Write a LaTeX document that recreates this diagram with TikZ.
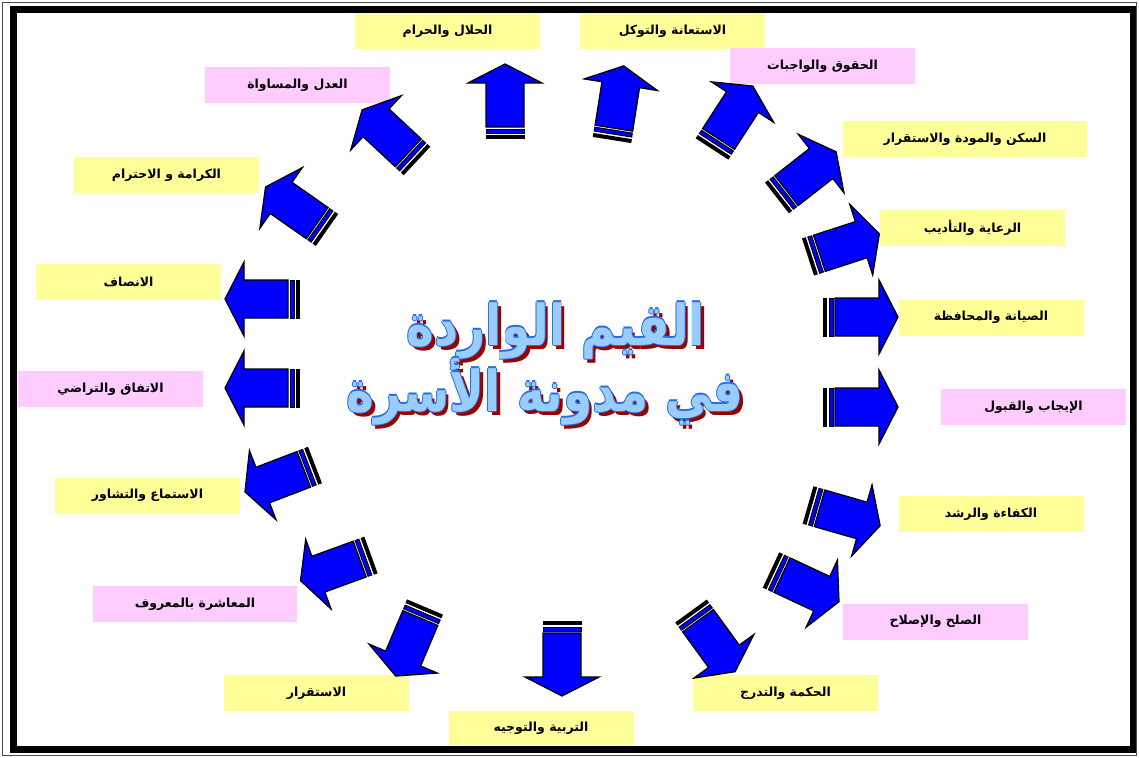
\documentclass[tikz,border=0pt]{standalone}
\usepackage{fontspec}
\newfontfamily\arabicfont[Script=Arabic]{DejaVu Sans}
\TeXXeTstate=1
\definecolor{arrowblue}{RGB}{0,0,255}
\definecolor{boxyellow}{RGB}{255,255,153}
\definecolor{boxpink}{RGB}{255,204,255}
\definecolor{titleblue}{RGB}{153,204,255}
\definecolor{titleline}{RGB}{40,110,220}
\definecolor{titleshadow}{RGB}{153,0,0}

% shadow, thin rim and light fill stacked in one box
\newcommand\titlelayers[1]{%
  \leavevmode
  \rlap{\hspace{3.5pt}\raisebox{-3.5pt}{\color{titleshadow}\beginR#1\endR}}%
  \rlap{\hspace{0.9pt}\color{titleline}\beginR#1\endR}%
  \rlap{\hspace{-0.9pt}\color{titleline}\beginR#1\endR}%
  \rlap{\raisebox{0.9pt}{\color{titleline}\beginR#1\endR}}%
  \rlap{\raisebox{-0.9pt}{\color{titleline}\beginR#1\endR}}%
  {\color{titleblue}\beginR#1\endR}}

\tikzset{
  valuebox/.style={minimum width=185pt, minimum height=36pt, inner sep=0pt,
    font=\arabicfont\bfseries\fontsize{12.5}{14}\selectfont},
  yellowbox/.style={valuebox, fill=boxyellow},
  pinkbox/.style={valuebox, fill=boxpink},
  titletext/.style={anchor=base, yscale=1.2, transform shape,
    font=\arabicfont\bfseries\fontsize{47}{52}\selectfont},
  valuearrow/.pic={
    \fill[black] (0,-19.5) rectangle (4,19.5);
    \filldraw[fill=arrowblue, draw=black, line width=1pt] (6,-19) rectangle (10,19);
    \filldraw[fill=arrowblue, draw=black, line width=1.3pt, line join=miter]
      (12,-19) -- (56,-19) -- (56,-37) -- (75,0) -- (56,37) -- (56,19) -- (12,19) -- cycle;
  },
}

\begin{document}
\begin{tikzpicture}[x=1pt, y=-1pt]
  \useasboundingbox (0,0) rectangle (1139,757);
  % Value labels, clockwise from the top.
  \node[yellowbox] (halal)    at (447.5,31)   {\beginR الحلال والحرام\endR};
  \node[yellowbox] (tawakkul) at (672.5,31)   {\beginR الاستعانة والتوكل\endR};
  \node[pinkbox]   (huquq)    at (822.5,66.5) {\beginR الحقوق والواجبات\endR};
  \node[yellowbox, minimum width=244pt] (sakan) at (965,139) {\beginR السكن والمودة والاستقرار\endR};
  \node[yellowbox] (riaya)    at (972.5,228)  {\beginR الرعاية والتأديب\endR};
  \node[yellowbox] (siyana)   at (991,317.5)  {\beginR الصيانة والمحافظة\endR};
  \node[pinkbox]   (ijab)     at (1033.5,407) {\beginR الإيجاب والقبول\endR};
  \node[yellowbox] (kafaa)    at (991,514)    {\beginR الكفاءة والرشد\endR};
  \node[pinkbox]   (sulh)     at (935.5,621.5) {\beginR الصلح والإصلاح\endR};
  \node[yellowbox] (hikma)    at (785.5,693)  {\beginR الحكمة والتدرج\endR};
  \node[yellowbox] (tarbiya)  at (541,728.5)  {\beginR التربية والتوجيه\endR};
  \node[yellowbox] (istiqrar) at (316.5,693)  {\beginR الاستقرار\endR};
  \node[pinkbox, minimum width=204pt] (muashara) at (195,604) {\beginR المعاشرة بالمعروف\endR};
  \node[yellowbox] (istima)   at (147.5,495.5) {\beginR الاستماع والتشاور\endR};
  \node[pinkbox]   (ittifaq)  at (110.5,389)  {\beginR الاتفاق والتراضي\endR};
  \node[yellowbox] (insaf)    at (128.5,282)  {\beginR الانصاف\endR};
  \node[yellowbox] (karama)   at (166.5,175)  {\beginR الكرامة و الاحترام\endR};
  \node[pinkbox]   (adl)      at (297.5,85)   {\beginR العدل والمساواة\endR};
  % Ring of block arrows: tail centre and direction of each.
  \foreach \x/\y/\a [count=\i] in {505/139/90, 612/140/81, 712/149/57, 777/198/38,
      808/257/18, 823/317/0, 823/407/0, 808/505/-16, 771/570/-25, 691/611/-54,
      562/621/-90, 425/607/247, 371/555/200, 315/465/201, 300/388/180,
      300/299/180, 327/230/145, 417/161/137}
    \pic[rotate=\a] (arr\i) at (\x,\y) {valuearrow};
  % Title in the middle of the ring.
  \node[titletext] (title1) at (556,345) {\titlelayers{القيم الواردة}};
  \node[titletext] (title2) at (545,411) {\titlelayers{في مدونة الأسرة}};
  % Double frame.
  \draw[line width=7pt] (13.5,10) rectangle (1133.5,749.5);
  \draw[line width=0.8pt, black!70] (2.5,2.5) rectangle (1136.5,755.5);
\end{tikzpicture}
\end{document}
